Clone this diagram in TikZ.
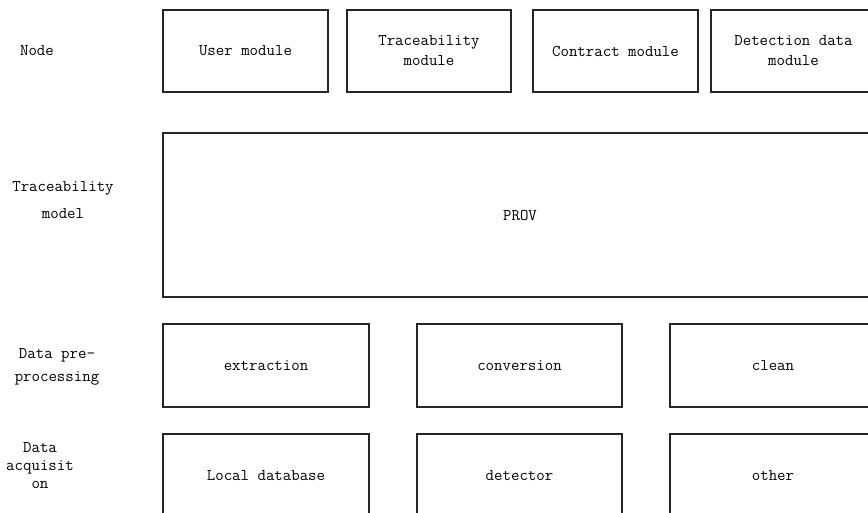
\documentclass[tikz,border=0pt]{standalone}
\usepackage{fontspec}
\setmainfont{Latin Modern Mono}
\begin{document}
\begin{tikzpicture}[x=1pt,y=-1pt,
  box/.style={draw=black!85,line width=1.2pt,inner sep=0pt,align=center,font=\fontsize{16.4}{20}\selectfont},
  lab/.style={align=center,inner sep=0pt,font=\fontsize{16.4}{20}\selectfont}]
\useasboundingbox (0,0) rectangle (868,513);
\clip (0,0) rectangle (868,513);
\fill[white] (0,0) rectangle (868,513);
% labels
\node[lab] (lnode) at (37,51) {Node};
\node[lab,font=\fontsize{16.4}{27}\selectfont] (ltrace) at (63,200) {Traceability\\model};
\node[lab,font=\fontsize{16.4}{23}\selectfont] (lpre) at (57,367) {Data pre-\\processing};
\node[lab,font=\fontsize{16.4}{18}\selectfont] (lacq) at (40,466) {Data\\acquisit\\on};
% top row
\node[box,minimum width=165,minimum height=82] (user) at (245.5,51) {User module};
\node[box,minimum width=164,minimum height=82] (trmod) at (429,51) {Traceability\\module};
\node[box,minimum width=165,minimum height=82] (contract) at (615.5,51) {Contract module};
\node[box,minimum width=165,minimum height=82] (detect) at (793.5,51) {Detection data\\module};
% PROV
\node[box,minimum width=714,minimum height=164] (prov) at (520,215) {PROV};
% preprocessing
\node[box,minimum width=206,minimum height=83] (extr) at (266,365.5) {extraction};
\node[box,minimum width=205,minimum height=83] (conv) at (519.5,365.5) {conversion};
\node[box,minimum width=206,minimum height=83] (clean) at (773,365.5) {clean};
% acquisition
\node[box,minimum width=206,minimum height=83] (local) at (266,475.5) {Local database};
\node[box,minimum width=205,minimum height=83] (det) at (519.5,475.5) {detector};
\node[box,minimum width=206,minimum height=83] (other) at (773,475.5) {other};
\end{tikzpicture}
\end{document}
